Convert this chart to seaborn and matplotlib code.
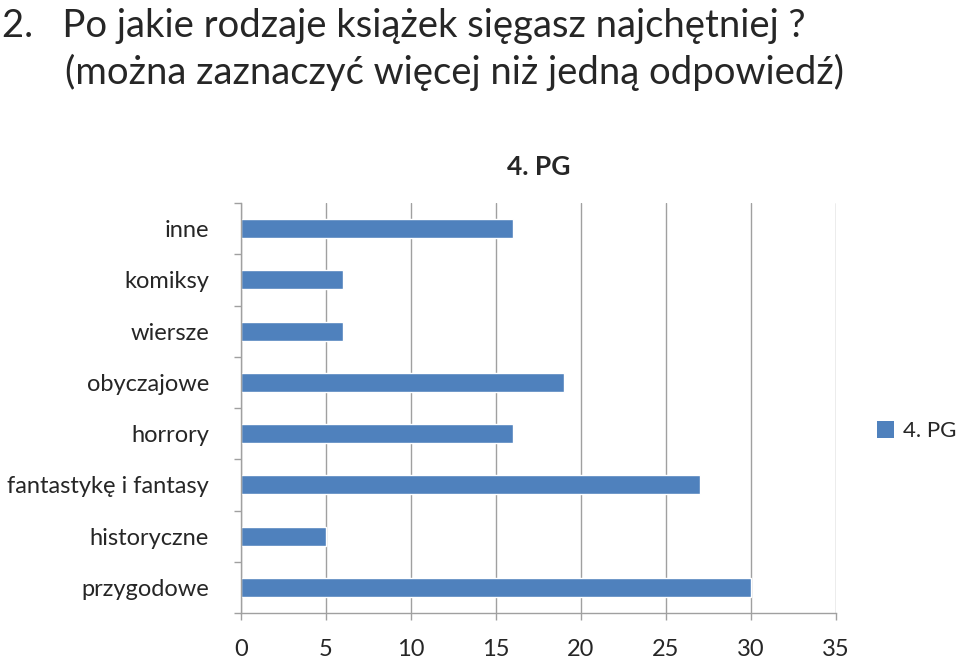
import matplotlib
matplotlib.use("Agg")
import matplotlib.pyplot as plt
import seaborn as sns
import pandas as pd
import numpy as np
from matplotlib.patches import Patch

categories = ["inne", "komiksy", "wiersze", "obyczajowe", "horrory",
              "fantastykę i fantasy", "historyczne", "przygodowe"]
values = [16, 6, 6, 19, 16, 27, 5, 30]
series_name = "4. PG"
x_ticks = [0, 5, 10, 15, 20, 25, 30, 35]

sns.set_style("white")
plt.rcParams['font.family'] = ['Lato', 'DejaVu Sans']

df = pd.DataFrame({"cat": categories, "val": values})

fig = plt.figure(figsize=(9.59, 6.59), dpi=100)
ax = fig.add_axes([241/959, 1-613/659, (836-241)/959, (613-203)/659])

sns.barplot(data=df, y="cat", x="val", order=categories, color="#4F81BD",
            saturation=1, width=0.37, ax=ax, orient="h")

ax.set_xlim(0, 35)
ax.set_ylim(len(categories) - 0.5, -0.5)
ax.set_xticks(x_ticks)
ax.set_xticklabels([str(t) for t in x_ticks], fontsize=17)
ax.tick_params(axis="x", length=5, color="#A0A0A0", width=1, pad=14, direction="out", bottom=True)
ax.set_yticks(range(len(categories)))
ax.set_yticklabels(categories, fontsize=17)
ax.tick_params(axis="y", length=0, pad=23)
ax.set_yticks(np.arange(-0.5, len(categories), 1), minor=True)
ax.tick_params(axis="y", which="minor", length=5, color="#A0A0A0", width=1, direction="out", left=True)
ax.set_xlabel("")
ax.set_ylabel("")
ax.xaxis.grid(True, color="#A0A0A0", linewidth=1)
ax.set_axisbelow(True)
for s in ["top", "right"]:
    ax.spines[s].set_visible(False)
for s in ["left", "bottom"]:
    ax.spines[s].set_color("#A0A0A0")
    ax.spines[s].set_linewidth(1)

ax.set_title(series_name, fontsize=19, fontweight="bold", pad=20)

fig.text(0.002, 0.988, "2.   Po jakie rodzaje książek sięgasz najchętniej ?", fontsize=27.5,
         ha="left", va="top")
fig.text(65/959, 0.918, "(można zaznaczyć więcej niż jedną odpowiedź)", fontsize=27.5,
         ha="left", va="top")

handle = Patch(facecolor="#4F81BD", edgecolor="none")
fig.legend([handle], [series_name], loc="center left", bbox_to_anchor=(870/959, 1-431/659),
           frameon=False, fontsize=16, handlelength=0.8, handleheight=0.8, handletextpad=0.4,
           borderaxespad=0, borderpad=0.3)

fig.savefig("out.png", dpi=100)
